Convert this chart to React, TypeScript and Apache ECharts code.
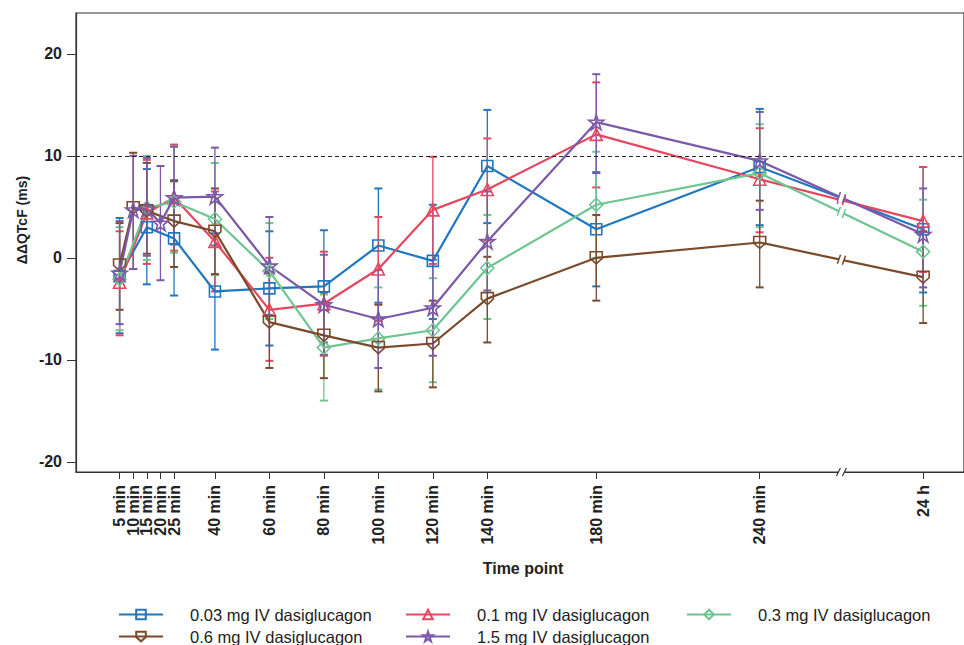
import React, { useEffect, useRef } from "react";
import * as echarts from "echarts";

// ---- data ----
const timePoints = [5, 10, 15, 20, 25, 40, 60, 80, 100, 120, 140, 180, 240, 300];
const tickLabels = ["5 min", "10 min", "15 min", "20 min", "25 min", "40 min", "60 min", "80 min", "100 min", "120 min", "140 min", "180 min", "240 min", "24 h"];
const yTicks = [-20, -10, 0, 10, 20];
const breakAt = 270;
const refLine = 10;

const doseNames = ["0.03 mg IV dasiglucagon", "0.1 mg IV dasiglucagon", "0.3 mg IV dasiglucagon", "0.6 mg IV dasiglucagon", "1.5 mg IV dasiglucagon"];

const mean003 = [-1.8, null, 3.0, null, 1.9, -3.3, -3.0, -2.8, 1.2, -0.3, 9.0, 2.8, 8.9, 2.8];
const lo003 = [-7.4, null, -2.6, null, -3.7, -9.0, -8.6, -8.3, -4.4, -6.0, 3.4, -2.8, 3.2, -3.4];
const hi003 = [3.9, null, 8.7, null, 7.5, 2.4, 2.6, 2.7, 6.8, 5.2, 14.5, 8.4, 14.6, 8.9];

const mean01 = [-2.4, null, 4.4, null, 5.9, 1.6, -5.1, -4.5, -1.1, 4.7, 6.7, 12.1, 7.7, 3.6];
const lo01 = [-7.6, null, -0.6, null, 0.7, -3.3, -10.1, -9.6, -6.2, -0.6, 1.7, 6.9, 2.5, -1.4];
const hi01 = [2.6, null, 9.6, null, 11.1, 6.5, 0.0, 0.6, 4.0, 9.9, 11.7, 17.2, 12.7, 8.9];

const mean03 = [-2.1, null, 4.9, null, 5.5, 3.8, -1.3, -8.8, -7.9, -7.1, -1.0, 5.2, 8.3, 0.6];
const lo03 = [-7.1, null, -0.2, null, 0.5, -1.7, -6.0, -14.0, -12.9, -12.2, -6.0, 0.0, 3.0, -4.7];
const hi03 = [3.0, null, 10.0, null, 10.9, 9.3, 3.4, -3.6, -2.9, -2.0, 4.2, 10.4, 13.1, 5.7];

const mean06 = [-0.7, 4.9, 4.6, null, 3.6, 2.6, -6.3, -7.6, -8.8, -8.4, -4.0, 0.0, 1.5, -1.9];
const lo06 = [-5.1, -1.1, 0.4, null, -0.9, -1.6, -10.8, -11.8, -13.1, -12.7, -8.3, -4.2, -2.9, -6.4];
const hi06 = [3.4, 10.3, 9.3, null, 7.6, 6.8, -1.5, -3.4, -4.6, -4.2, 0.1, 4.2, 5.6, 2.6];

const mean15 = [-1.5, 4.7, 4.8, 3.4, 5.9, 6.0, -0.8, -4.6, -6.0, -4.9, 1.6, 13.3, 9.5, 2.3];
const lo15 = [-6.5, -1.1, 0.2, -2.2, 1.3, 1.2, -5.6, -9.5, -10.8, -9.6, -3.2, 8.3, 4.7, -2.9];
const hi15 = [3.6, 10.0, 9.8, 9.0, 10.9, 10.8, 4.0, 0.3, -1.2, -0.2, 6.5, 18.0, 14.3, 6.8];

// ---- styles ----
const FONT = "'Liberation Sans', Arial, sans-serif";
const STAR = "path://M50,2 L61,36 L97,36 L68,57 L79,92 L50,71 L21,92 L32,57 L3,36 L39,36 Z";
const SHIELD = "path://M0,0 L10,0 L10,6 L5,11 L0,6 Z";

const doses = [
  { name: doseNames[0], color: "#1f77c0", symbol: "rect", size: 11, mean: mean003, lo: lo003, hi: hi003 },
  { name: doseNames[1], color: "#e5475f", symbol: "triangle", size: 12, mean: mean01, lo: lo01, hi: hi01 },
  { name: doseNames[2], color: "#6ec591", symbol: "diamond", size: 13, mean: mean03, lo: lo03, hi: hi03 },
  { name: doseNames[3], color: "#7a4a2b", symbol: SHIELD, size: 12, mean: mean06, lo: lo06, hi: hi06 },
  { name: doseNames[4], color: "#7c58a8", symbol: STAR, size: 15, mean: mean15, lo: lo15, hi: hi15 },
];

function buildOption() {
  const series: any[] = [];
  doses.forEach((d) => {
    const pts: any[] = [];
    const bars: any[] = [];
    timePoints.forEach((t, i) => {
      if (d.mean[i] != null) pts.push([t, d.mean[i]]);
      if (d.lo[i] != null && d.hi[i] != null) bars.push([t, d.lo[i], d.hi[i]]);
    });
    // error bars
    series.push({
      type: "custom",
      name: d.name + " CI",
      z: 2,
      silent: true,
      data: bars,
      encode: { x: 0, y: [1, 2] },
      renderItem: (params: any, api: any) => {
        const x = api.value(0);
        const pLo = api.coord([x, api.value(1)]);
        const pHi = api.coord([x, api.value(2)]);
        const w = 4;
        return {
          type: "group",
          children: [
            { type: "line", shape: { x1: pLo[0], y1: pLo[1], x2: pHi[0], y2: pHi[1] }, style: { stroke: d.color, lineWidth: 1.3 } },
            { type: "line", shape: { x1: pLo[0] - w, y1: pLo[1], x2: pLo[0] + w, y2: pLo[1] }, style: { stroke: d.color, lineWidth: 2 } },
            { type: "line", shape: { x1: pHi[0] - w, y1: pHi[1], x2: pHi[0] + w, y2: pHi[1] }, style: { stroke: d.color, lineWidth: 2 } },
          ],
        };
      },
    });
    // mean line
    series.push({
      type: "line",
      name: d.name,
      z: 3,
      data: pts,
      symbol: d.symbol,
      symbolSize: d.size,
      showAllSymbol: true,
      lineStyle: { color: d.color, width: 2.2 },
      itemStyle: { color: "rgba(255,255,255,0)", borderColor: d.color, borderWidth: 1.6 },
      emphasis: { disabled: true },
    });
    // line break marks between 240 min and 24 h
    const n = timePoints.length;
    series.push({
      type: "custom",
      name: d.name + " break",
      z: 4,
      silent: true,
      data: [[timePoints[n - 2], d.mean[n - 2], timePoints[n - 1], d.mean[n - 1]]],
      encode: { x: [0, 2], y: [1, 3] },
      renderItem: (params: any, api: any) => {
        const a = api.coord([api.value(0), api.value(1)]);
        const b = api.coord([api.value(2), api.value(3)]);
        const bx = api.coord([breakAt, 0])[0];
        const slope = (b[1] - a[1]) / (b[0] - a[0]);
        const my = a[1] + slope * (bx - a[0]);
        const yAt = (x: number) => my + slope * (x - bx);
        const g = 2.5, h = 4.5, s = 1.6;
        const L1 = [bx - g - s, yAt(bx - g) + h], L2 = [bx - g + s, yAt(bx - g) - h];
        const R1 = [bx + g - s, yAt(bx + g) + h], R2 = [bx + g + s, yAt(bx + g) - h];
        return {
          type: "group",
          children: [
            { type: "polygon", shape: { points: [L1, L2, R2, R1] }, style: { fill: "#fff" } },
            { type: "line", shape: { x1: L1[0], y1: L1[1], x2: L2[0], y2: L2[1] }, style: { stroke: d.color, lineWidth: 1.5 } },
            { type: "line", shape: { x1: R1[0], y1: R1[1], x2: R2[0], y2: R2[1] }, style: { stroke: d.color, lineWidth: 1.5 } },
          ],
        };
      },
    });
  });
  // axis break mark
  series.push({
    type: "custom",
    name: "axis break",
    z: 5,
    silent: true,
    clip: false,
    data: [[breakAt]],
    encode: { x: 0 },
    renderItem: (params: any, api: any) => {
      const p = api.coord([api.value(0), -21]);
      const g = 3, h = 4, s = 2;
      const L1 = [p[0] - g - s, p[1] + h], L2 = [p[0] - g + s, p[1] - h];
      const R1 = [p[0] + g - s, p[1] + h], R2 = [p[0] + g + s, p[1] - h];
      return {
        type: "group",
        children: [
          { type: "polygon", shape: { points: [L1, L2, R2, R1] }, style: { fill: "#fff" } },
          { type: "line", shape: { x1: L1[0], y1: L1[1], x2: L2[0], y2: L2[1] }, style: { stroke: "#333", lineWidth: 1.2 } },
          { type: "line", shape: { x1: R1[0], y1: R1[1], x2: R2[0], y2: R2[1] }, style: { stroke: "#333", lineWidth: 1.2 } },
        ],
      };
    },
  });
  // reference line
  series.push({
    type: "line",
    name: "ref",
    data: [],
    markLine: {
      silent: true,
      symbol: "none",
      label: { show: false },
      lineStyle: { color: "#222", type: [4, 3], width: 1 },
      data: [{ yAxis: refLine }],
    },
  });

  const legendCommon = {
    orient: "vertical",
    itemGap: 5,
    itemWidth: 44,
    itemHeight: 12,
    padding: 0,
    selectedMode: false,
    textStyle: { fontFamily: FONT, fontSize: 16.5, color: "#222", padding: [0, 0, 0, 22] },
  };

  const labelFmt = (v: number) => {
    const i = timePoints.indexOf(v);
    return i >= 0 ? tickLabels[i] : "";
  };
  // labels split over two overlaid axes so that crowded labels are all drawn
  const evenTicks = timePoints.filter((_, i) => i % 2 === 0);
  const oddTicks = timePoints.filter((_, i) => i % 2 === 1);
  const xLabelStyle = {
    showMinLabel: true,
    showMaxLabel: true,
    hideOverlap: false,
    rotate: 90,
    margin: 13,
    fontSize: 16,
    fontWeight: "bold",
    color: "#222",
    fontFamily: FONT,
    formatter: labelFmt,
  };

  return {
    animation: false,
    backgroundColor: "#fff",
    textStyle: { fontFamily: FONT },
    grid: { left: 76, right: -1, top: 13, bottom: 173, show: true, borderColor: "#333", borderWidth: 1.2, backgroundColor: "transparent" },
    xAxis: [
      {
        type: "value",
        position: "bottom",
        min: -11,
        max: 315,
        splitLine: { show: false },
        axisLine: { show: true, onZero: false, lineStyle: { color: "#333", width: 1.2 } },
        axisTick: { show: true, length: 7, customValues: timePoints, lineStyle: { color: "#333" } },
        axisLabel: { ...xLabelStyle, customValues: evenTicks },
      },
      {
        type: "value",
        position: "bottom",
        offset: 0,
        min: -11,
        max: 315,
        splitLine: { show: false },
        axisLine: { show: false, onZero: false },
        axisTick: { show: false },
        axisLabel: { ...xLabelStyle, customValues: oddTicks },
      },
    ],
    yAxis: {
      type: "value",
      min: -21,
      max: 24,
      splitLine: { show: false },
      axisLine: { show: true, onZero: false, lineStyle: { color: "#333", width: 1.2 } },
      axisTick: { show: true, length: 9, customValues: yTicks, lineStyle: { color: "#333" } },
      axisLabel: { customValues: yTicks, showMinLabel: true, showMaxLabel: true, margin: 14, fontSize: 16, fontWeight: "bold", color: "#222", fontFamily: FONT },
    },
    legend: [
      { ...legendCommon, left: 118, top: 606, data: [doseNames[0], doseNames[3]] },
      { ...legendCommon, left: 405, top: 606, data: [doseNames[1], doseNames[4]] },
      { ...legendCommon, left: 686, top: 606, data: [doseNames[2]] },
    ],
    graphic: [
      {
        type: "text",
        x: 22,
        y: 220,
        rotation: Math.PI / 2,
        style: { text: "ΔΔQTcF (ms)", fontFamily: FONT, fontSize: 14, fontWeight: "bold", fill: "#222", textAlign: "center", textVerticalAlign: "middle" },
      },
      {
        type: "text",
        x: 523,
        y: 568,
        style: { text: "Time point", fontFamily: FONT, fontSize: 16, fontWeight: "bold", fill: "#222", textAlign: "center", textVerticalAlign: "middle" },
      },
    ],
    series,
  };
}

export default function App() {
  const ref = useRef<HTMLDivElement>(null);
  useEffect(() => {
    document.body.style.margin = "0";
    const chart = echarts.init(ref.current!, null, { renderer: "svg" });
    chart.setOption(buildOption() as any);
    return () => chart.dispose();
  }, []);
  return <div ref={ref} style={{ width: 964, height: 645 }} />;
}
